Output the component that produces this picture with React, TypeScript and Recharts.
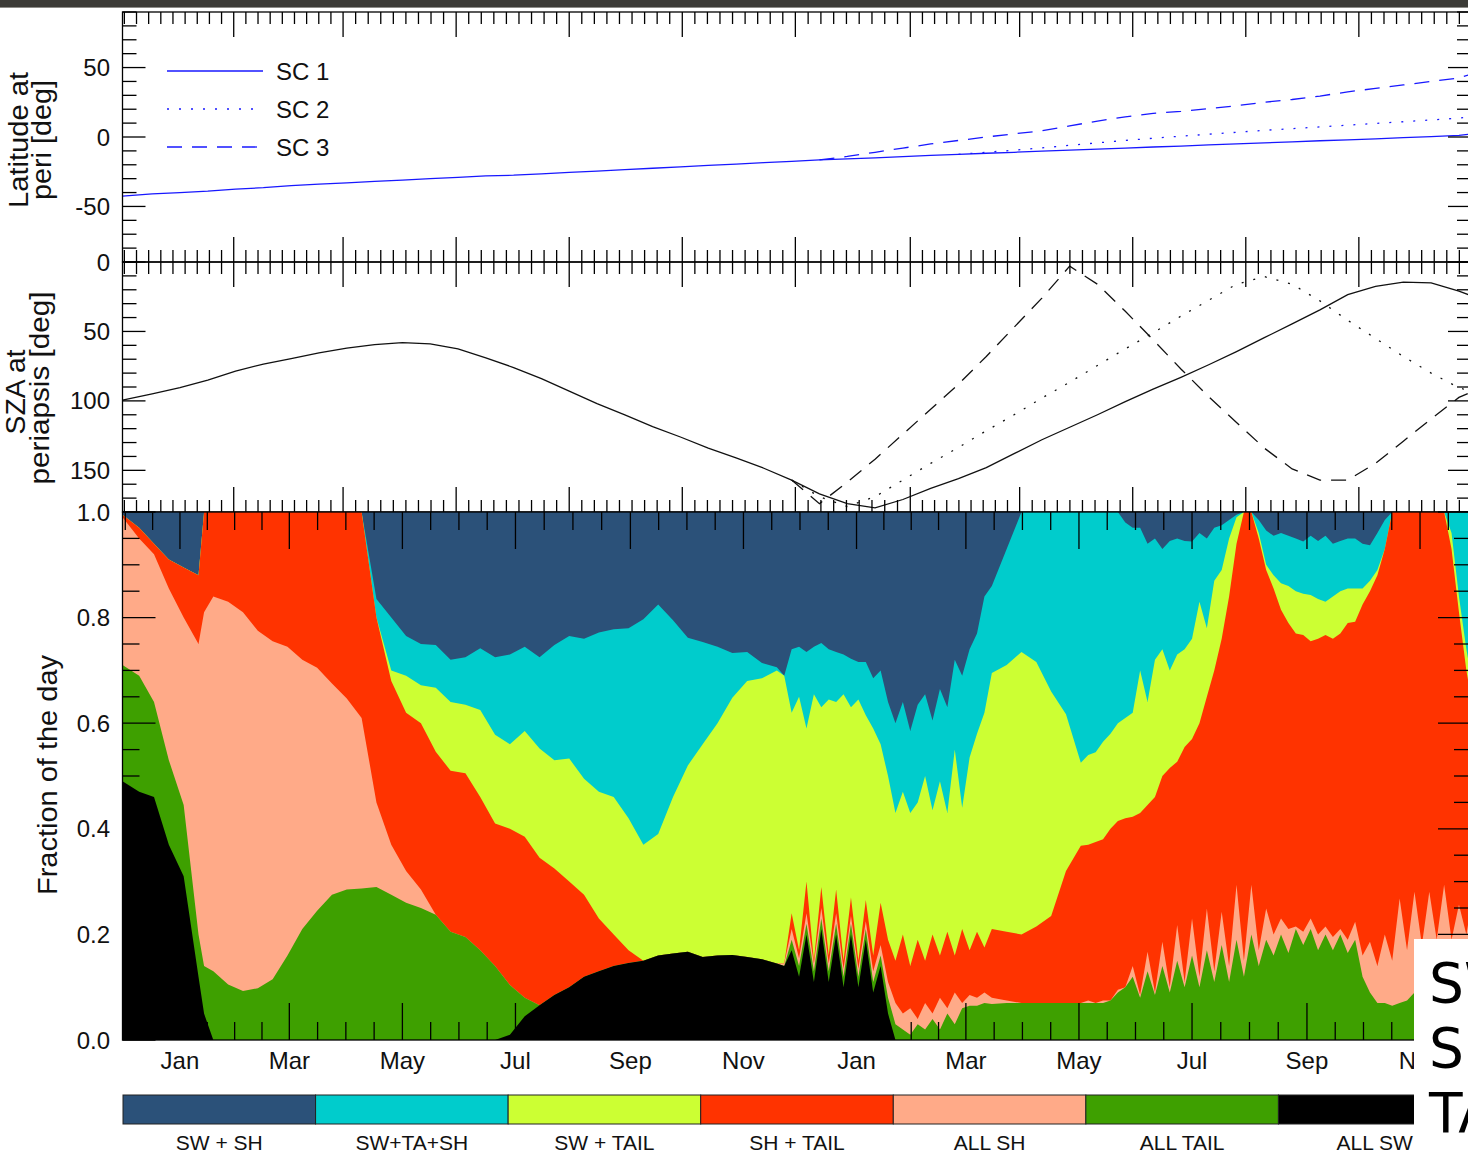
import React from "react";
import { Area, ComposedChart, Line, XAxis, YAxis } from "recharts";

const FONT = "'Liberation Sans', Arial, Helvetica, sans-serif";

// x axis: days counted from 1 Jan of the first year
const X_DOMAIN: [number, number] = [-31, 696.5];
const PLOT_LEFT = 122.5;
const PLOT_RIGHT = 1471;
const CHART_W = 1480;

const MONTH_TICKS = [0, 59, 120, 181, 243, 304, 365, 424, 485, 546, 608, 669];
const MONTH_LABELS = ["Jan", "Mar", "May", "Jul", "Sep", "Nov", "Jan", "Mar", "May", "Jul", "Sep", "Nov"];
const ORBIT_TICKS = [29, 88, 149, 210, 271, 332, 394, 453, 514, 575, 636];

// ---- periapsis lines (latitude, SZA) ----
const LINE_DAYS = [-31, -15, 0, 15, 30, 45, 60, 75, 90, 105, 120, 135, 150, 165, 180, 195, 210, 225, 240, 255, 270, 285, 300, 315, 330, 345, 360, 375, 390, 405, 420, 435, 450, 465, 480, 495, 510, 525, 540, 555, 570, 585, 600, 615, 630, 645, 660, 675, 690, 696];

const LAT_SC1 = [-42.5, -41, -40, -39, -37.5, -36.5, -35, -34, -33, -32, -31, -30, -29, -28, -27.5, -26.5, -25.5, -24.5, -23.5, -22.5, -21.5, -20.5, -19.5, -18.5, -17.5, -16.5, -15.8, -15, -14.2, -13.3, -12.5, -11.7, -11, -10.2, -9.5, -8.8, -8, -7.2, -6.5, -5.7, -5, -4.2, -3.5, -2.7, -2, -1.3, -0.5, 0.3, 1.2, 2];
const LAT_SC2 = [null, null, null, null, null, null, null, null, null, null, null, null, null, null, null, null, null, null, null, null, null, null, null, null, null, null, null, null, null, null,
  -12.5, -11, -9.5, -7.8, -6, -4.2, -2.5, -0.9, 0.6, 2, 3.4, 4.8, 6, 7.3, 8.5, 9.8, 11, 12.3, 13.6, 14.4];
const LAT_SC3 = [null, null, null, null, null, null, null, null, null, null, null, null, null, null, null, null, null, null, null, null, null, null, null, null, null,
  -16.5, -14, -11, -8, -5, -2.5, 0, 2.3, 4.5, 8, 11.5, 14.5, 17, 18.5, 20.5, 22.5, 25, 27, 29.5, 32.5, 35, 37.5, 40, 42.5, 45];

const SZA_SC1 = [99.5, 95, 90.5, 85, 78.5, 73.5, 69.5, 65.5, 62, 59.5, 58, 59, 62.5, 69, 76, 84, 93, 102, 110, 118.5, 126, 134, 141, 148.5, 157, 167, 174, 177, 171, 163, 156, 148, 138, 128, 119, 110, 100.5, 91.5, 83, 74, 64.5, 54.5, 44.5, 34.5, 23.5, 17.5, 14.5, 15, 21, 24];
const SZA_SC2 = [null, null, null, null, null, null, null, null, null, null, null, null, null, null, null, null, null, null, null, null, null, null, null, null,
  157, 169, 176, 169, 157, 145, 133.5, 121.5, 110, 98, 86.5, 74.5, 62.5, 51, 39, 27.5, 16, 10.5, 16, 28, 42, 55, 68, 80, 90.5, 93];
const SZA_SC3 = [null, null, null, null, null, null, null, null, null, null, null, null, null, null, null, null, null, null, null, null, null, null, null, null,
  157, 174, 158.5, 142, 124, 106, 88, 68, 47, 26, 3, 16, 35.5, 56, 77, 97, 115.5, 134, 149, 157, 157, 145, 129, 113, 97.5, 94];

// ---- fraction of the day: cumulative share (this class + all classes drawn below it) ----
const AREA_DAYS = [
  -31, -22, -14, -6, 2, 10, 13, 18, 26, 34, 42, 50, 58, 66, 74, 82, 90, 98, 106, 114, 122, 130, 138, 146, 154, 162, 170, 178, 186, 194, 202, 210, 218, 226, 234, 242, 250, 258, 266, 274, 282, 290, 298, 306, 314, 322,
  326, 330, 334, 338, 342, 346, 350, 354, 358, 362, 366, 370, 374, 378, 382, 386, 390, 394, 398, 402, 406, 410, 414, 418, 422, 426, 430, 434, 438,
  446, 454, 462, 470, 478, 486,
  490, 494, 498, 502, 506, 510, 514, 518, 522, 526, 530, 534, 538, 542, 546, 550, 554, 558, 562, 566, 570, 574, 578, 582, 586, 590, 594, 598, 602, 606, 610, 614, 618, 622, 626, 630, 634, 638, 642, 646, 650, 654, 658, 662, 666, 670, 674, 678, 682, 686, 690, 694, 696,
];

const CUM_ALL_SW = [
  0.49, 0.47, 0.46, 0.37, 0.31, 0.12, 0.05, 0, 0, 0, 0, 0, 0, 0, 0, 0, 0, 0, 0, 0, 0, 0, 0, 0, 0, 0, 0, 0.01, 0.045, 0.066, 0.085, 0.1, 0.12, 0.13, 0.14, 0.146, 0.15, 0.16, 0.164, 0.167, 0.157, 0.16, 0.161, 0.157, 0.153, 0.145,
  0.14, 0.17, 0.12, 0.2, 0.11, 0.21, 0.11, 0.2, 0.1, 0.2, 0.1, 0.19, 0.09, 0.14, 0.05, 0, 0, 0, 0, 0, 0, 0, 0, 0, 0, 0, 0, 0, 0,
  0, 0, 0, 0, 0, 0,
  0, 0, 0, 0, 0, 0, 0, 0, 0, 0, 0, 0, 0, 0, 0, 0, 0, 0, 0, 0, 0, 0, 0, 0, 0, 0, 0, 0, 0, 0, 0, 0, 0, 0, 0, 0, 0, 0, 0, 0, 0, 0, 0, 0, 0, 0, 0, 0, 0, 0, 0, 0, 0,
];
const CUM_ALL_TAIL = [
  0.71, 0.69, 0.64, 0.53, 0.445, 0.2, 0.14, 0.13, 0.105, 0.093, 0.098, 0.115, 0.16, 0.21, 0.245, 0.275, 0.285, 0.287, 0.29, 0.275, 0.26, 0.25, 0.237, 0.205, 0.195, 0.17, 0.14, 0.104, 0.08, 0.066, 0.085, 0.1, 0.12, 0.13, 0.14, 0.146, 0.15, 0.16, 0.164, 0.167, 0.157, 0.16, 0.161, 0.157, 0.153, 0.145,
  0.14, 0.19, 0.14, 0.22, 0.13, 0.23, 0.13, 0.22, 0.12, 0.22, 0.12, 0.21, 0.11, 0.16, 0.08, 0.03, 0.02, 0.01, 0.03, 0.02, 0.04, 0.02, 0.05, 0.03, 0.06, 0.065, 0.065, 0.07, 0.068,
  0.07, 0.07, 0.07, 0.07, 0.07, 0.07,
  0.07, 0.07, 0.07, 0.075, 0.09, 0.1, 0.12, 0.08, 0.13, 0.085, 0.14, 0.09, 0.15, 0.1, 0.16, 0.1, 0.17, 0.11, 0.18, 0.11, 0.19, 0.12, 0.2, 0.14, 0.19, 0.16, 0.2, 0.165, 0.21, 0.18, 0.21, 0.17, 0.2, 0.17, 0.2, 0.165, 0.19, 0.12, 0.09, 0.07, 0.07, 0.065, 0.07, 0.075, 0.09, 0.1, 0.12, 0.11, 0.13, 0.12, 0.14, 0.12, 0.13,
];
const CUM_ALL_SH = [
  0.99, 0.95, 0.92, 0.855, 0.8, 0.75, 0.81, 0.84, 0.83, 0.81, 0.775, 0.755, 0.745, 0.72, 0.705, 0.675, 0.647, 0.61, 0.45, 0.37, 0.32, 0.285, 0.237, 0.205, 0.195, 0.17, 0.14, 0.104, 0.08, 0.066, 0.085, 0.1, 0.12, 0.13, 0.14, 0.146, 0.15, 0.16, 0.164, 0.167, 0.157, 0.16, 0.161, 0.157, 0.153, 0.145,
  0.145, 0.21, 0.155, 0.24, 0.145, 0.25, 0.145, 0.24, 0.135, 0.235, 0.135, 0.225, 0.13, 0.18, 0.11, 0.07, 0.05, 0.06, 0.04, 0.07, 0.05, 0.08, 0.06, 0.09, 0.07, 0.085, 0.08, 0.09, 0.08,
  0.075, 0.07, 0.07, 0.07, 0.07, 0.07,
  0.075, 0.07, 0.075, 0.075, 0.095, 0.1, 0.14, 0.085, 0.167, 0.09, 0.186, 0.1, 0.218, 0.11, 0.23, 0.12, 0.249, 0.13, 0.243, 0.14, 0.294, 0.15, 0.294, 0.17, 0.249, 0.2, 0.23, 0.21, 0.215, 0.205, 0.23, 0.2, 0.215, 0.195, 0.21, 0.19, 0.224, 0.16, 0.186, 0.14, 0.2, 0.15, 0.268, 0.17, 0.281, 0.18, 0.281, 0.19, 0.294, 0.19, 0.256, 0.2, 0.24,
];
const CUM_SH_TAIL = [
  0.995, 0.97, 0.94, 0.91, 0.895, 0.88, 1, 1, 1, 1, 1, 1, 1, 1, 1, 1, 1, 1, 0.8, 0.68, 0.62, 0.6, 0.546, 0.51, 0.505, 0.46, 0.41, 0.4, 0.385, 0.345, 0.325, 0.3, 0.275, 0.23, 0.2, 0.17, 0.15, 0.16, 0.164, 0.167, 0.157, 0.16, 0.161, 0.157, 0.153, 0.145,
  0.145, 0.24, 0.17, 0.3, 0.15, 0.29, 0.16, 0.285, 0.15, 0.27, 0.15, 0.265, 0.16, 0.26, 0.19, 0.15, 0.2, 0.14, 0.19, 0.15, 0.2, 0.16, 0.205, 0.16, 0.21, 0.17, 0.205, 0.175, 0.21,
  0.205, 0.2, 0.215, 0.235, 0.32, 0.368,
  0.37, 0.375, 0.38, 0.4, 0.415, 0.42, 0.423, 0.43, 0.445, 0.46, 0.5, 0.515, 0.527, 0.555, 0.57, 0.6, 0.65, 0.7, 0.76, 0.84, 0.94, 1, 1, 0.95, 0.89, 0.855, 0.815, 0.79, 0.77, 0.767, 0.755, 0.76, 0.767, 0.76, 0.77, 0.79, 0.792, 0.825, 0.85, 0.88, 0.93, 1, 1, 1, 1, 1, 1, 1, 1, 0.93, 0.81, 0.7, 0.66,
];
const CUM_SW_TAIL = [
  0.995, 0.97, 0.94, 0.91, 0.895, 0.88, 1, 1, 1, 1, 1, 1, 1, 1, 1, 1, 1, 1, 0.8, 0.7, 0.69, 0.672, 0.667, 0.64, 0.635, 0.625, 0.578, 0.56, 0.585, 0.552, 0.53, 0.533, 0.495, 0.47, 0.46, 0.42, 0.37, 0.39, 0.46, 0.52, 0.56, 0.6, 0.648, 0.68, 0.685, 0.7,
  0.69, 0.62, 0.65, 0.59, 0.655, 0.63, 0.645, 0.64, 0.655, 0.63, 0.645, 0.615, 0.59, 0.56, 0.5, 0.43, 0.47, 0.43, 0.45, 0.5, 0.435, 0.49, 0.43, 0.55, 0.44, 0.535, 0.58, 0.62, 0.695,
  0.71, 0.735, 0.716, 0.66, 0.617, 0.525,
  0.54, 0.545, 0.565, 0.58, 0.6, 0.61, 0.62, 0.7, 0.64, 0.72, 0.74, 0.7, 0.73, 0.74, 0.76, 0.83, 0.78, 0.87, 0.89, 0.95, 0.99, 1, 1, 0.96, 0.9, 0.88, 0.865, 0.86, 0.85, 0.845, 0.843, 0.835, 0.83, 0.84, 0.85, 0.855, 0.855, 0.855, 0.87, 0.89, 0.93, 1, 1, 1, 1, 1, 1, 1, 1, 0.96, 0.84, 0.74, 0.7,
];
const CUM_SW_TA_SH = [
  0.995, 0.97, 0.94, 0.91, 0.895, 0.88, 1, 1, 1, 1, 1, 1, 1, 1, 1, 1, 1, 1, 0.835, 0.8, 0.765, 0.75, 0.748, 0.72, 0.725, 0.742, 0.725, 0.73, 0.745, 0.725, 0.748, 0.765, 0.76, 0.772, 0.778, 0.78, 0.797, 0.825, 0.795, 0.762, 0.754, 0.745, 0.733, 0.735, 0.714, 0.706,
  0.69, 0.74, 0.745, 0.735, 0.745, 0.752, 0.74, 0.735, 0.73, 0.722, 0.716, 0.716, 0.685, 0.7, 0.64, 0.6, 0.64, 0.585, 0.635, 0.655, 0.605, 0.665, 0.63, 0.72, 0.69, 0.74, 0.77, 0.84, 0.86,
  0.93, 1, 1, 1, 1, 1,
  1, 1, 1, 1, 1, 0.98, 0.97, 0.97, 0.94, 0.95, 0.93, 0.945, 0.95, 0.945, 0.944, 0.96, 0.95, 0.97, 0.975, 0.985, 0.995, 1, 1, 0.985, 0.965, 0.955, 0.96, 0.955, 0.95, 0.944, 0.955, 0.945, 0.955, 0.94, 0.945, 0.95, 0.95, 0.94, 0.937, 0.96, 0.985, 1, 1, 1, 1, 1, 1, 1, 1, 1, 1, 1, 1,
];

const CATEGORIES = [
  { key: "swsh", label: "SW + SH", color: "#2b5179" },
  { key: "swtash", label: "SW+TA+SH", color: "#00cccc" },
  { key: "swtail", label: "SW + TAIL", color: "#ccff33" },
  { key: "shtail", label: "SH + TAIL", color: "#ff3300" },
  { key: "allsh", label: "ALL SH", color: "#ffaa88" },
  { key: "alltail", label: "ALL TAIL", color: "#3ea000" },
  { key: "allsw", label: "ALL SW", color: "#000000" },
];

const SC_SERIES = [
  { label: "SC 1", dash: undefined as string | undefined },
  { label: "SC 2", dash: "2 10" },
  { label: "SC 3", dash: "15 10" },
];

const lineRows = LINE_DAYS.map((day, i) => ({
  day,
  lat1: LAT_SC1[i], lat2: LAT_SC2[i], lat3: LAT_SC3[i],
  sza1: SZA_SC1[i], sza2: SZA_SC2[i], sza3: SZA_SC3[i],
}));

const areaRows = AREA_DAYS.map((day, i) => ({
  day,
  swsh: 1, // whole day
  swtash: CUM_SW_TA_SH[i],
  swtail: CUM_SW_TAIL[i],
  shtail: CUM_SH_TAIL[i],
  allsh: CUM_ALL_SH[i],
  alltail: CUM_ALL_TAIL[i],
  allsw: CUM_ALL_SW[i],
}));

function withMinor(majors: number[], parts: number) {
  const out: number[] = [];
  const push = (v: number) => {
    if (v > X_DOMAIN[0] && v < X_DOMAIN[1]) out.push(Math.round(v * 100) / 100);
  };
  majors.forEach((m, i) => {
    push(m);
    if (i < majors.length - 1) {
      const step = (majors[i + 1] - m) / parts;
      for (let k = 1; k < parts; k++) push(m + k * step);
    } else {
      const step = (m - majors[i - 1]) / parts;
      for (let v = m + step; v < X_DOMAIN[1]; v += step) push(v);
    }
    if (i === 0) {
      const step = (majors[1] - m) / parts;
      for (let v = m - step; v > X_DOMAIN[0]; v -= step) push(v);
    }
  });
  return out.sort((a, b) => a - b);
}

const range = (from: number, to: number, step: number) => {
  const n = Math.round((to - from) / step);
  return Array.from({ length: n + 1 }, (_, i) => Math.round((from + i * step) * 1000) / 1000);
};

function xTick(top: number, bottom: number, majors: number[], majorLen: number, minorLen: number, labels?: string[]) {
  return (props: any) => {
    const { x, payload } = props;
    const idx = majors.indexOf(payload.value);
    const len = idx >= 0 ? majorLen : minorLen;
    return (
      <g>
        <line x1={x} x2={x} y1={top} y2={top + len} stroke="#000" strokeWidth={1.3} />
        <line x1={x} x2={x} y1={bottom} y2={bottom - len} stroke="#000" strokeWidth={1.3} />
        {labels && idx >= 0 ? (
          <text x={x} y={bottom + 29} textAnchor="middle" fontFamily={FONT} fontSize={24} fill="#111">
            {labels[idx]}
          </text>
        ) : null}
      </g>
    );
  };
}

function yTick(top: number, bottom: number, majors: number[], majorLen: number, minorLen: number, fmt: (v: number) => string) {
  return (props: any) => {
    const { y, payload, index } = props;
    const v = payload.value;
    const isMajor = majors.some((m) => Math.abs(m - v) < 1e-6);
    const len = isMajor ? majorLen : minorLen;
    return (
      <g>
        {index === 0 ? (
          <rect x={PLOT_LEFT} y={top} width={PLOT_RIGHT - PLOT_LEFT} height={bottom - top} fill="none" stroke="#000" strokeWidth={1.3} />
        ) : null}
        <line x1={PLOT_LEFT} x2={PLOT_LEFT + len} y1={y} y2={y} stroke="#000" strokeWidth={1.3} />
        <line x1={PLOT_RIGHT} x2={PLOT_RIGHT - len} y1={y} y2={y} stroke="#000" strokeWidth={1.3} />
        {isMajor ? (
          <text x={110} y={y} textAnchor="end" dominantBaseline="central" fontFamily={FONT} fontSize={24} fill="#111">
            {fmt(v)}
          </text>
        ) : null}
      </g>
    );
  };
}

const ORBIT_ALL = withMinor(ORBIT_TICKS, 9);
const MONTH_ALL = withMinor(MONTH_TICKS, 4);

const abs: React.CSSProperties = { position: "absolute", left: 0, top: 0 };

export default function App() {
  return (
    <div style={{ position: "absolute", left: 0, top: 0, width: 1468, height: 1153, overflow: "hidden", background: "#fff" }}>
      <div style={{ ...abs, width: 1468, height: 7, background: "#3c3b37" }} />
      <div style={{ ...abs, top: 7, width: 1468, height: 1, background: "#8d8c88" }} />

      {/* latitude at periapsis */}
      <div style={abs}>
        <ComposedChart width={CHART_W} height={264} data={lineRows} margin={{ top: 12, right: CHART_W - PLOT_RIGHT, bottom: 0, left: 0 }}>
          {SC_SERIES.map((s, i) => (
            <Line key={s.label} dataKey={`lat${i + 1}`} type="linear" stroke="#1818ff" strokeWidth={1.3}
              strokeDasharray={s.dash} dot={false} activeDot={false} isAnimationActive={false} />
          ))}
          <XAxis dataKey="day" type="number" domain={X_DOMAIN} ticks={ORBIT_ALL} interval={0} height={2}
            tickLine={false} axisLine={false} tick={xTick(12, 262, ORBIT_TICKS, 25, 12)} />
          <YAxis type="number" domain={[-90, 90]} ticks={range(-90, 90, 10)} interval={0} width={PLOT_LEFT}
            tickLine={false} axisLine={false} tick={yTick(12, 262, [-50, 0, 50], 23, 14, (v) => String(v))} />
        </ComposedChart>
      </div>

      {/* solar zenith angle at periapsis */}
      <div style={abs}>
        <ComposedChart width={CHART_W} height={514} data={lineRows} margin={{ top: 262, right: CHART_W - PLOT_RIGHT, bottom: 0, left: 0 }}>
          {SC_SERIES.map((s, i) => (
            <Line key={s.label} dataKey={`sza${i + 1}`} type="linear" stroke="#111" strokeWidth={1.3}
              strokeDasharray={s.dash} dot={false} activeDot={false} isAnimationActive={false} />
          ))}
          <XAxis dataKey="day" type="number" domain={X_DOMAIN} ticks={ORBIT_ALL} interval={0} height={2}
            tickLine={false} axisLine={false} tick={xTick(262, 512, ORBIT_TICKS, 25, 12)} />
          <YAxis type="number" domain={[0, 180]} reversed ticks={range(0, 180, 10)} interval={0} width={PLOT_LEFT}
            tickLine={false} axisLine={false} tick={yTick(262, 512, [0, 50, 100, 150], 23, 14, (v) => String(v))} />
        </ComposedChart>
      </div>

      {/* fraction of the day */}
      <div style={abs}>
        <ComposedChart width={CHART_W} height={1153} data={areaRows} margin={{ top: 512, right: CHART_W - PLOT_RIGHT, bottom: 0, left: 0 }}>
          {CATEGORIES.map((c) => (
            <Area key={c.key} dataKey={c.key} type="linear" stroke="none" fill={c.color} fillOpacity={1}
              dot={false} activeDot={false} isAnimationActive={false} />
          ))}
          <XAxis dataKey="day" type="number" domain={X_DOMAIN} ticks={MONTH_ALL} interval={0} height={113}
            tickLine={false} axisLine={false} tick={xTick(512, 1040, MONTH_TICKS, 37, 18, MONTH_LABELS)} />
          <YAxis type="number" domain={[0, 1]} ticks={range(0, 1, 0.05)} interval={0} width={PLOT_LEFT}
            tickLine={false} axisLine={false} tick={yTick(512, 1040, range(0, 1, 0.2), 33, 17, (v) => v.toFixed(1))} />
        </ComposedChart>
      </div>

      <svg width={1468} height={1153} style={{ ...abs, pointerEvents: "none" }} fontFamily={FONT}>
        <g fill="#111" fontSize={27} textAnchor="middle">
          <text transform="translate(28,140) rotate(-90)" textLength={136} lengthAdjust="spacingAndGlyphs">Latitude at</text>
          <text transform="translate(51,140) rotate(-90)" textLength={120} lengthAdjust="spacingAndGlyphs">peri [deg]</text>
          <text transform="translate(25,392) rotate(-90)" textLength={85} lengthAdjust="spacingAndGlyphs">SZA at</text>
          <text transform="translate(49,388) rotate(-90)" textLength={193} lengthAdjust="spacingAndGlyphs">periapsis [deg]</text>
          <text transform="translate(57,775) rotate(-90)" textLength={240} lengthAdjust="spacingAndGlyphs">Fraction of the day</text>
        </g>
        {SC_SERIES.map((s, i) => (
          <g key={s.label}>
            <line x1={167} x2={263} y1={71 + i * 38} y2={71 + i * 38} stroke="#1818ff" strokeWidth={1.3} strokeDasharray={s.dash} />
            <text x={276} y={71 + i * 38} dominantBaseline="central" fontSize={24} fill="#111">{s.label}</text>
          </g>
        ))}
        {CATEGORIES.map((c, i) => {
          const w = (1471 - 123) / 7;
          const x = 123 + i * w;
          return (
            <g key={c.key}>
              <rect x={x} y={1095} width={w} height={29} fill={c.color} stroke="#222" strokeWidth={1} />
              <text x={x + w / 2} y={1150} textAnchor="middle" fontSize={21} fill="#111">{c.label}</text>
            </g>
          );
        })}
      </svg>

      <div style={{ position: "absolute", left: 1414, top: 939, width: 80, height: 214, background: "#fff",
        fontFamily: "'DejaVu Sans', sans-serif", fontSize: 55, lineHeight: "65px", paddingTop: 12, paddingLeft: 15,
        boxSizing: "border-box", color: "#000", whiteSpace: "nowrap" }}>
        <div>SW</div>
        <div>SH</div>
        <div>TA</div>
      </div>
    </div>
  );
}
